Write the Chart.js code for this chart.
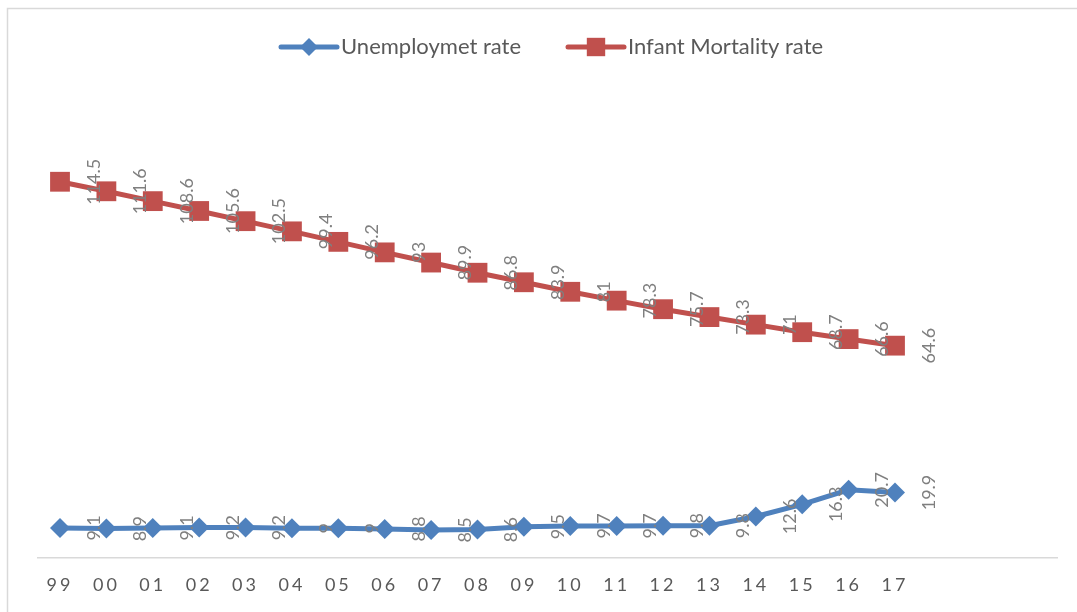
<!DOCTYPE html>
<html>
<head>
<meta charset="utf-8">
<script src="https://cdn.jsdelivr.net/npm/chart.js@4.4.1/dist/chart.umd.min.js"></script>
<style>
  html, body { margin: 0; padding: 0; background: #fff; }
  #wrap { width: 1077px; height: 612px; position: relative; }
</style>
</head>
<body>
<div id="wrap"><canvas id="myChart"></canvas></div>
<script>
// data
const years = ['99', '00', '01', '02', '03', '04', '05', '06', '07', '08', '09', '10', '11', '12', '13', '14', '15', '16', '17'];
const unemployment = [9.1, 8.9, 9.1, 9.2, 9.2, 9, 9, 8.8, 8.5, 8.6, 9.5, 9.7, 9.7, 9.8, 9.8, 12.6, 16.3, 20.7, 19.9];
const infantMortality = [114.5, 111.6, 108.6, 105.6, 102.5, 99.4, 96.2, 93, 89.9, 86.8, 83.9, 81, 78.3, 75.7, 73.3, 71, 68.7, 66.6, 64.6];
const seriesNames = ['Unemploymet rate', 'Infant Mortality rate'];

const blue = '#4f81bd';
const red = '#c0504d';
const FONT = 'Lato, "Open Sans", sans-serif';

// frame, axis line and white background
const framePlugin = {
  id: 'frame',
  beforeDraw(chart) {
    const c = chart.ctx;
    c.save();
    c.fillStyle = '#fff';
    c.fillRect(0, 0, chart.width, chart.height);
    c.strokeStyle = '#d9d9d9';
    c.lineWidth = 1.5;
    c.beginPath();
    c.moveTo(7.5, chart.height);
    c.lineTo(7.5, 8.5);
    c.lineTo(chart.width, 8.5);
    c.stroke();
    c.restore();
    // spaced tick labels, like the original
    c.letterSpacing = '3px';
  },
  beforeDatasetsDraw(chart) {
    const c = chart.ctx;
    c.letterSpacing = '0px';
    const y0 = chart.scales.y.getPixelForValue(0);
    c.save();
    c.strokeStyle = '#d9d9d9';
    c.lineWidth = 1.5;
    c.beginPath();
    c.moveTo(37, y0);
    c.lineTo(1058, y0);
    c.stroke();
    c.restore();
  }
};

// rotated value labels, sitting right of each point
const labelPlugin = {
  id: 'vlabels',
  afterDatasetsDraw(chart) {
    const c = chart.ctx;
    c.save();
    c.font = '18px ' + FONT;
    c.fillStyle = '#7f7f7f';
    c.textAlign = 'center';
    c.textBaseline = 'middle';
    chart.data.datasets.forEach((ds, i) => {
      chart.getDatasetMeta(i).data.forEach((pt, j) => {
        c.save();
        c.translate(pt.x + 34, pt.y);
        c.rotate(-Math.PI / 2);
        c.fillText(String(ds.data[j]), 0, 0);
        c.restore();
      });
    });
    c.restore();
  }
};

// legend: line with marker + text
const legendPlugin = {
  id: 'mylegend',
  afterDraw(chart) {
    const c = chart.ctx;
    const items = [
      { x: 281, color: blue, style: 'diamond', r: 9, text: seriesNames[0] },
      { x: 568, color: red, style: 'rect', r: 13, text: seriesNames[1] }
    ];
    const y = 47;
    c.save();
    items.forEach(it => {
      c.strokeStyle = it.color;
      c.lineWidth = 5;
      c.lineCap = 'round';
      c.beginPath();
      c.moveTo(it.x, y);
      c.lineTo(it.x + 56, y);
      c.stroke();
      c.fillStyle = it.color;
      c.beginPath();
      if (it.style === 'rect') {
        const s = it.r * Math.SQRT1_2;
        c.rect(it.x + 28 - s, y - s, 2 * s, 2 * s);
      } else {
        c.moveTo(it.x + 28, y - it.r);
        c.lineTo(it.x + 28 + it.r, y);
        c.lineTo(it.x + 28, y + it.r);
        c.lineTo(it.x + 28 - it.r, y);
        c.closePath();
      }
      c.fill();
      c.fillStyle = '#595959';
      c.font = '22px ' + FONT;
      c.textAlign = 'left';
      c.textBaseline = 'middle';
      c.fillText(it.text, it.x + 60, y);
    });
    c.restore();
  }
};

const ctx = document.getElementById('myChart').getContext('2d');

const myChart = new Chart(ctx, {
  type: 'line',
  data: {
    labels: years,
    datasets: [
      {
        label: seriesNames[0],
        data: unemployment,
        borderColor: blue,
        backgroundColor: blue,
        borderWidth: 5,
        pointStyle: 'rectRot',
        pointRadius: 10,
        pointHoverRadius: 10,
        pointBorderWidth: 0,
        tension: 0,
        clip: false
      },
      {
        label: seriesNames[1],
        data: infantMortality,
        borderColor: red,
        backgroundColor: red,
        borderWidth: 5,
        pointStyle: 'rect',
        pointRadius: 14,
        pointHoverRadius: 14,
        pointBorderWidth: 0,
        tension: 0,
        clip: false
      }
    ]
  },
  options: {
    responsive: true,
    maintainAspectRatio: false,
    animation: false,
    layout: {
      padding: { left: 60, right: 182, top: 98, bottom: 0 }
    },
    plugins: {
      legend: { display: false },
      tooltip: { enabled: false }
    },
    scales: {
      x: {
        grid: { display: false, drawTicks: false },
        border: { display: false },
        ticks: {
          color: '#595959',
          font: { family: FONT, size: 18, lineHeight: 2.12 },
          padding: 8,
          maxRotation: 0,
          autoSkip: false
        }
      },
      y: {
        display: false,
        min: 0,
        max: 140
      }
    }
  },
  plugins: [framePlugin, labelPlugin, legendPlugin]
});
</script>
</body>
</html>
